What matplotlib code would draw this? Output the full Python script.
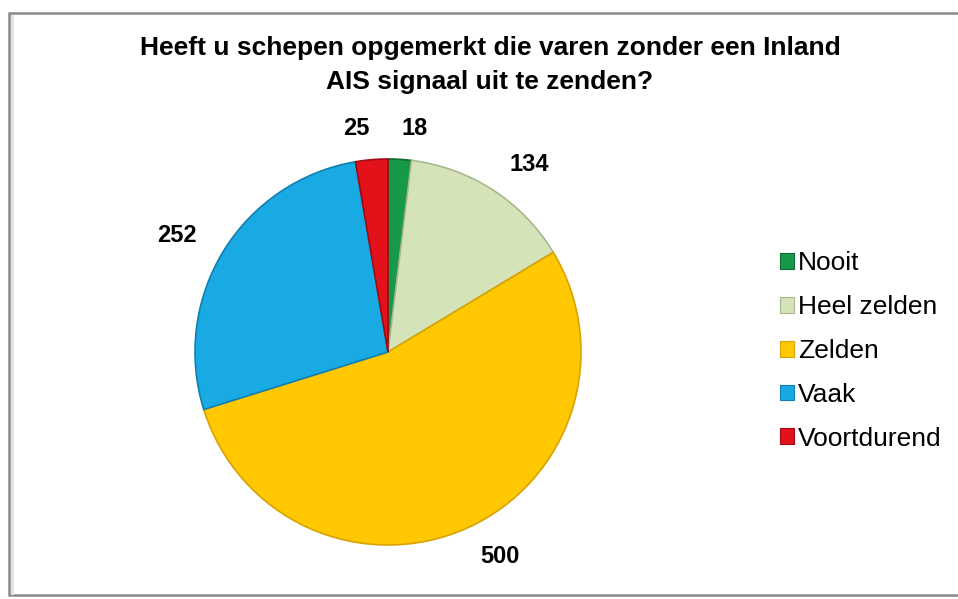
import matplotlib
matplotlib.use('Agg')
import matplotlib.pyplot as plt
from matplotlib.patches import Rectangle, Patch

plt.rcParams['font.family'] = ['Liberation Sans', 'DejaVu Sans']

title = 'Heeft u schepen opgemerkt die varen zonder een Inland\nAIS signaal uit te zenden?'
categories = ['Nooit', 'Heel zelden', 'Zelden', 'Vaak', 'Voortdurend']
values = [18, 134, 500, 252, 25]
colors = ['#169A4A', '#D5E4B8', '#FFC800', '#19AAE4', '#E3111A']
edge_colors = ['#0B6B30', '#A7B98C', '#D9A200', '#0F80B0', '#A00A10']

fig = plt.figure(figsize=(9.58, 5.99), dpi=100)

# chart frame (runs past the right edge, like the original)
fig.patches.append(Rectangle((9 / 958, 4 / 599), 960 / 958, 582 / 599, transform=fig.transFigure,
                             facecolor='white', edgecolor='#8a8a8a', linewidth=1.8, zorder=1))
fig.patches.append(Rectangle((11 / 958, 4 / 599), 3 / 958, 580 / 599, transform=fig.transFigure,
                             facecolor='#e2e2e2', edgecolor='none', zorder=1))

fig.text(490 / 958, 1 - 65 / 599, title, ha='center', va='center', fontsize=19,
         fontweight='bold', linespacing=1.55, zorder=3)

# pie axes: center (388, 352) px, radius 193 px
r = 193
ax = fig.add_axes([(388 - r) / 958, (599 - 352 - r) / 599, 2 * r / 958, 2 * r / 599])
ax.set_zorder(2)
ax.patch.set_visible(False)
wedges, texts = ax.pie(values, colors=colors, startangle=90, counterclock=False,
                       labels=[str(v) for v in values], labeldistance=1.16,
                       wedgeprops=dict(linewidth=1.2),
                       textprops=dict(fontsize=17, fontweight='bold'))
for w, ec in zip(wedges, edge_colors):
    w.set_edgecolor(ec)
ax.set_xlim(-1, 1)
ax.set_ylim(-1, 1)
ax.set_aspect('equal')

handles = [Patch(facecolor=c, edgecolor=e, linewidth=0.8) for c, e in zip(colors, edge_colors)]
leg = fig.legend(handles, categories, loc='center left', bbox_to_anchor=(756 / 958, 1 - 351 / 599),
                 frameon=False, fontsize=19, handlelength=0.55, handleheight=0.55,
                 handletextpad=0.15, labelspacing=0.75)
leg.set_zorder(3)

fig.savefig('out.png', dpi=100)
